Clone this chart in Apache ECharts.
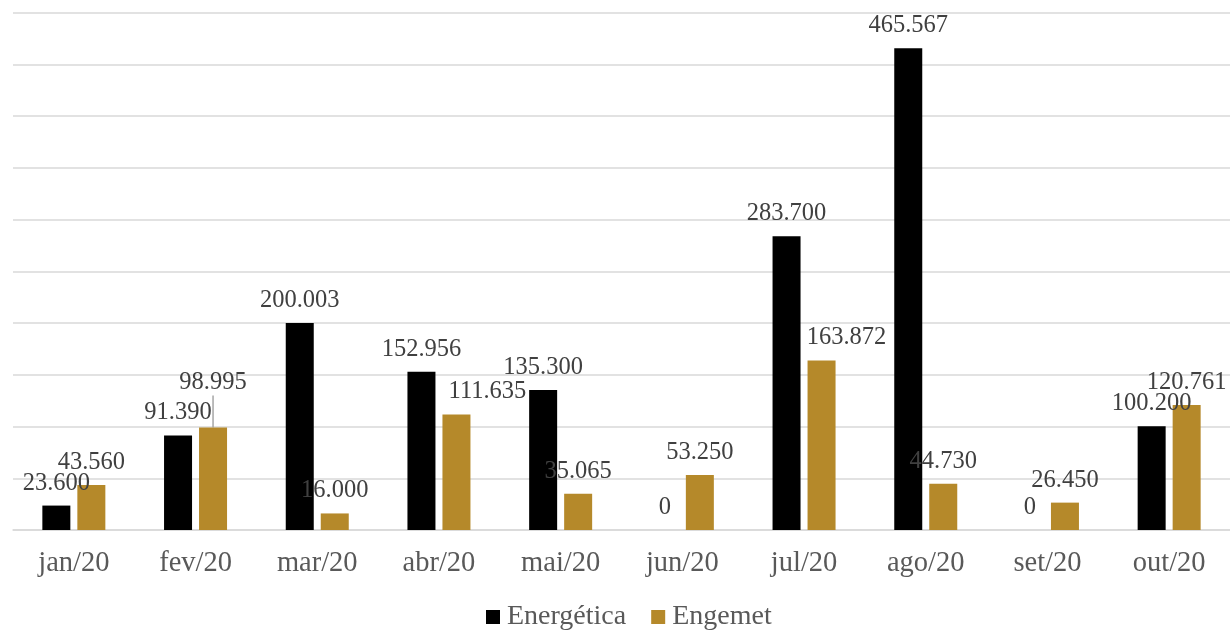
<!DOCTYPE html>
<html>
<head>
<meta charset="utf-8">
<script src="https://cdn.jsdelivr.net/npm/echarts@6/dist/echarts.min.js"></script>
<style>html,body{margin:0;padding:0;background:#fff;}#c{width:1230px;height:632px;}</style>
</head>
<body>
<div id="c"></div>
<script>
const categories = ['jan/20','fev/20','mar/20','abr/20','mai/20','jun/20','jul/20','ago/20','set/20','out/20'];
const energetica = [23600, 91390, 200003, 152956, 135300, 0, 283700, 465567, 0, 100200];
const engemet = [43560, 98995, 16000, 111635, 35065, 53250, 163872, 44730, 26450, 120761];
const seriesNames = ['Energética', 'Engemet'];

function fmt(v) {
  return String(v).replace(/\B(?=(\d{3})+(?!\d))/g, '.');
}

const FONT = "'Liberation Serif', 'Times New Roman', serif";
// label adjustments for the Engemet series (index -> [dx, dy])
const engemetShift = {1: [0, -22], 3: [31, 0], 6: [25, 0]};

const chart = echarts.init(document.getElementById('c'));
chart.setOption({
  animation: false,
  grid: {left: 13, top: 12.5, width: 1221, bottom: 102, containLabel: false},
  legend: {
    bottom: -4, left: 481,
    itemWidth: 14, itemHeight: 14, itemGap: 25,
    icon: 'rect',
    textStyle: {fontFamily: FONT, fontSize: 28, color: '#595959', padding: [0, 0, 0, 2]},
    data: seriesNames
  },
  xAxis: {
    type: 'category', data: categories,
    axisLine: {lineStyle: {color: '#d9d9d9', width: 1.5}},
    axisTick: {show: false},
    axisLabel: {fontFamily: FONT, fontSize: 28.5, color: '#595959', margin: 19}
  },
  yAxis: {
    type: 'value', min: 0, max: 500000, interval: 50000,
    axisLabel: {show: false}, axisLine: {show: false}, axisTick: {show: false},
    splitLine: {lineStyle: {color: '#d9d9d9', width: 1.5}}
  },
  series: [
    {
      name: seriesNames[0], type: 'bar', data: energetica,
      barWidth: 28, barGap: '25%',
      itemStyle: {color: '#000000'},
      label: {show: true, position: 'top', distance: 10, formatter: p => fmt(p.value),
              fontFamily: FONT, fontSize: 24.5, color: '#404040'}
    },
    {
      name: seriesNames[1], type: 'bar',
      data: engemet.map((v, i) => i === 1
        ? {value: v, labelLine: {show: true, lineStyle: {color: '#a6a6a6', width: 1.5}}} : v),
      barWidth: 28,
      itemStyle: {color: '#B5892A'},
      label: {show: true, position: 'top', distance: 10, formatter: p => fmt(p.value),
              fontFamily: FONT, fontSize: 24.5, color: '#404040'},
      labelLayout: function (params) {
        const s = engemetShift[params.dataIndex];
        return s ? {dx: s[0], dy: s[1]} : {};
      }
    }
  ]
});
</script>
</body>
</html>
